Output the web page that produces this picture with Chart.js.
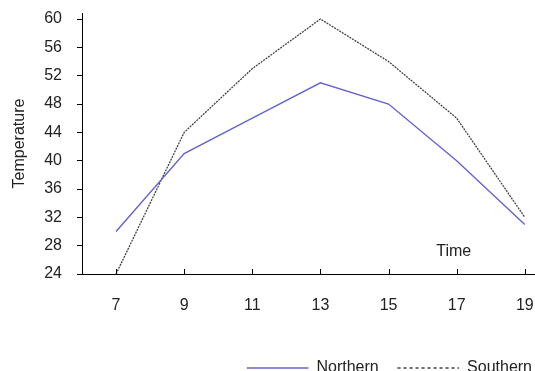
<!DOCTYPE html>
<html>
<head>
<meta charset="utf-8">
<script src="https://cdn.jsdelivr.net/npm/chart.js@4/dist/chart.umd.min.js"></script>
<style>
  html, body { margin: 0; padding: 0; background: #fff; overflow: hidden; }
  #wrap { position: relative; width: 535px; height: 386px; }
</style>
</head>
<body>
<div id="wrap"><canvas id="c"></canvas></div>
<script>
// Hour of day
const hours = [7, 9, 11, 13, 15, 17, 19];
// Temperature readings per region
const northern = [30, 41, 46, 51, 48, 40, 31];
const southern = [24, 44, 53, 60, 54, 46, 32];
// Value axis ticks
const tempTicks = [24, 28, 32, 36, 40, 44, 48, 52, 56, 60];

const FONT = { family: '"Liberation Sans", Arial, sans-serif', size: 16 };
const TEXT = '#222';

// Short tick marks pointing up into the plot from the time axis,
// plus the "Time" caption inside the plot corner.
const innerTicks = {
  id: 'innerTicks',
  afterDraw(chart) {
    const { ctx, chartArea } = chart;
    const x = chart.scales.x;
    ctx.save();
    ctx.strokeStyle = '#000';
    ctx.lineWidth = 1;
    ctx.beginPath();
    hours.forEach(h => {
      const px = Math.round(x.getPixelForValue(h)) + 0.5;
      ctx.moveTo(px, chartArea.bottom);
      ctx.lineTo(px, chartArea.bottom - 5);
    });
    ctx.stroke();
    ctx.fillStyle = TEXT;
    ctx.font = `${FONT.size}px ${FONT.family}`;
    ctx.textAlign = 'center';
    ctx.textBaseline = 'middle';
    ctx.fillText('Time', x.getPixelForValue(19) - 71, chartArea.bottom - 22);
    ctx.restore();
  }
};

const noPad = s => { s.paddingLeft = 0; s.paddingRight = 0; s.paddingTop = 0; s.paddingBottom = 0; };

new Chart(document.getElementById('c'), {
  type: 'line',
  data: {
    datasets: [
      {
        label: 'Northern  ',
        data: hours.map((h, i) => ({ x: h, y: northern[i] })),
        borderColor: '#6464c8',
        backgroundColor: '#6464c8',
        borderWidth: 1.4,
        pointRadius: 0,
        tension: 0
      },
      {
        label: 'Southern',
        data: hours.map((h, i) => ({ x: h, y: southern[i] })),
        borderColor: '#444444',
        backgroundColor: '#444444',
        borderWidth: 1.3,
        borderDash: [2, 1],
        pointRadius: 0,
        tension: 0
      }
    ]
  },
  options: {
    responsive: true,
    maintainAspectRatio: false,
    animation: false,
    devicePixelRatio: 1,
    layout: { padding: { top: 13, right: -7, left: 0, bottom: 0 } },
    plugins: {
      tooltip: { enabled: false },
      legend: {
        position: 'bottom',
        align: 'end',
        labels: {
          font: FONT,
          color: TEXT,
          // zero-height boxes render as flat line samples
          boxWidth: 61.5,
          boxHeight: 0,
          padding: 10,
          generateLabels(chart) {
            const items = Chart.defaults.plugins.legend.labels.generateLabels(chart);
            items.forEach(it => {
              it.lineWidth = 1;
              if (it.lineDash && it.lineDash.length) it.lineDash = [3, 3];
            });
            return items;
          }
        }
      }
    },
    scales: {
      x: {
        type: 'linear',
        min: 6,
        max: 19.3,
        afterBuildTicks: s => { s.ticks = hours.map(v => ({ value: v })); },
        afterFit: s => { s.height = 76; noPad(s); },
        grid: { display: true, drawOnChartArea: false, drawTicks: false },
        border: { display: true, color: '#000', width: 1 },
        ticks: { font: FONT, color: TEXT, padding: 22, maxRotation: 0, autoSkip: false }
      },
      y: {
        type: 'linear',
        min: 24,
        max: 60.85,
        afterBuildTicks: s => { s.ticks = tempTicks.map(v => ({ value: v })); },
        afterFit: s => { s.width = 82; noPad(s); },
        grid: { display: true, drawOnChartArea: false, drawTicks: true, tickLength: 5, color: '#000' },
        border: { display: true, color: '#000', width: 1 },
        ticks: { font: FONT, color: TEXT, padding: 15 },
        title: { display: true, text: 'Temperature', font: FONT, color: TEXT, padding: { top: 10, bottom: 0 } }
      }
    }
  },
  plugins: [innerTicks]
});
</script>
</body>
</html>
